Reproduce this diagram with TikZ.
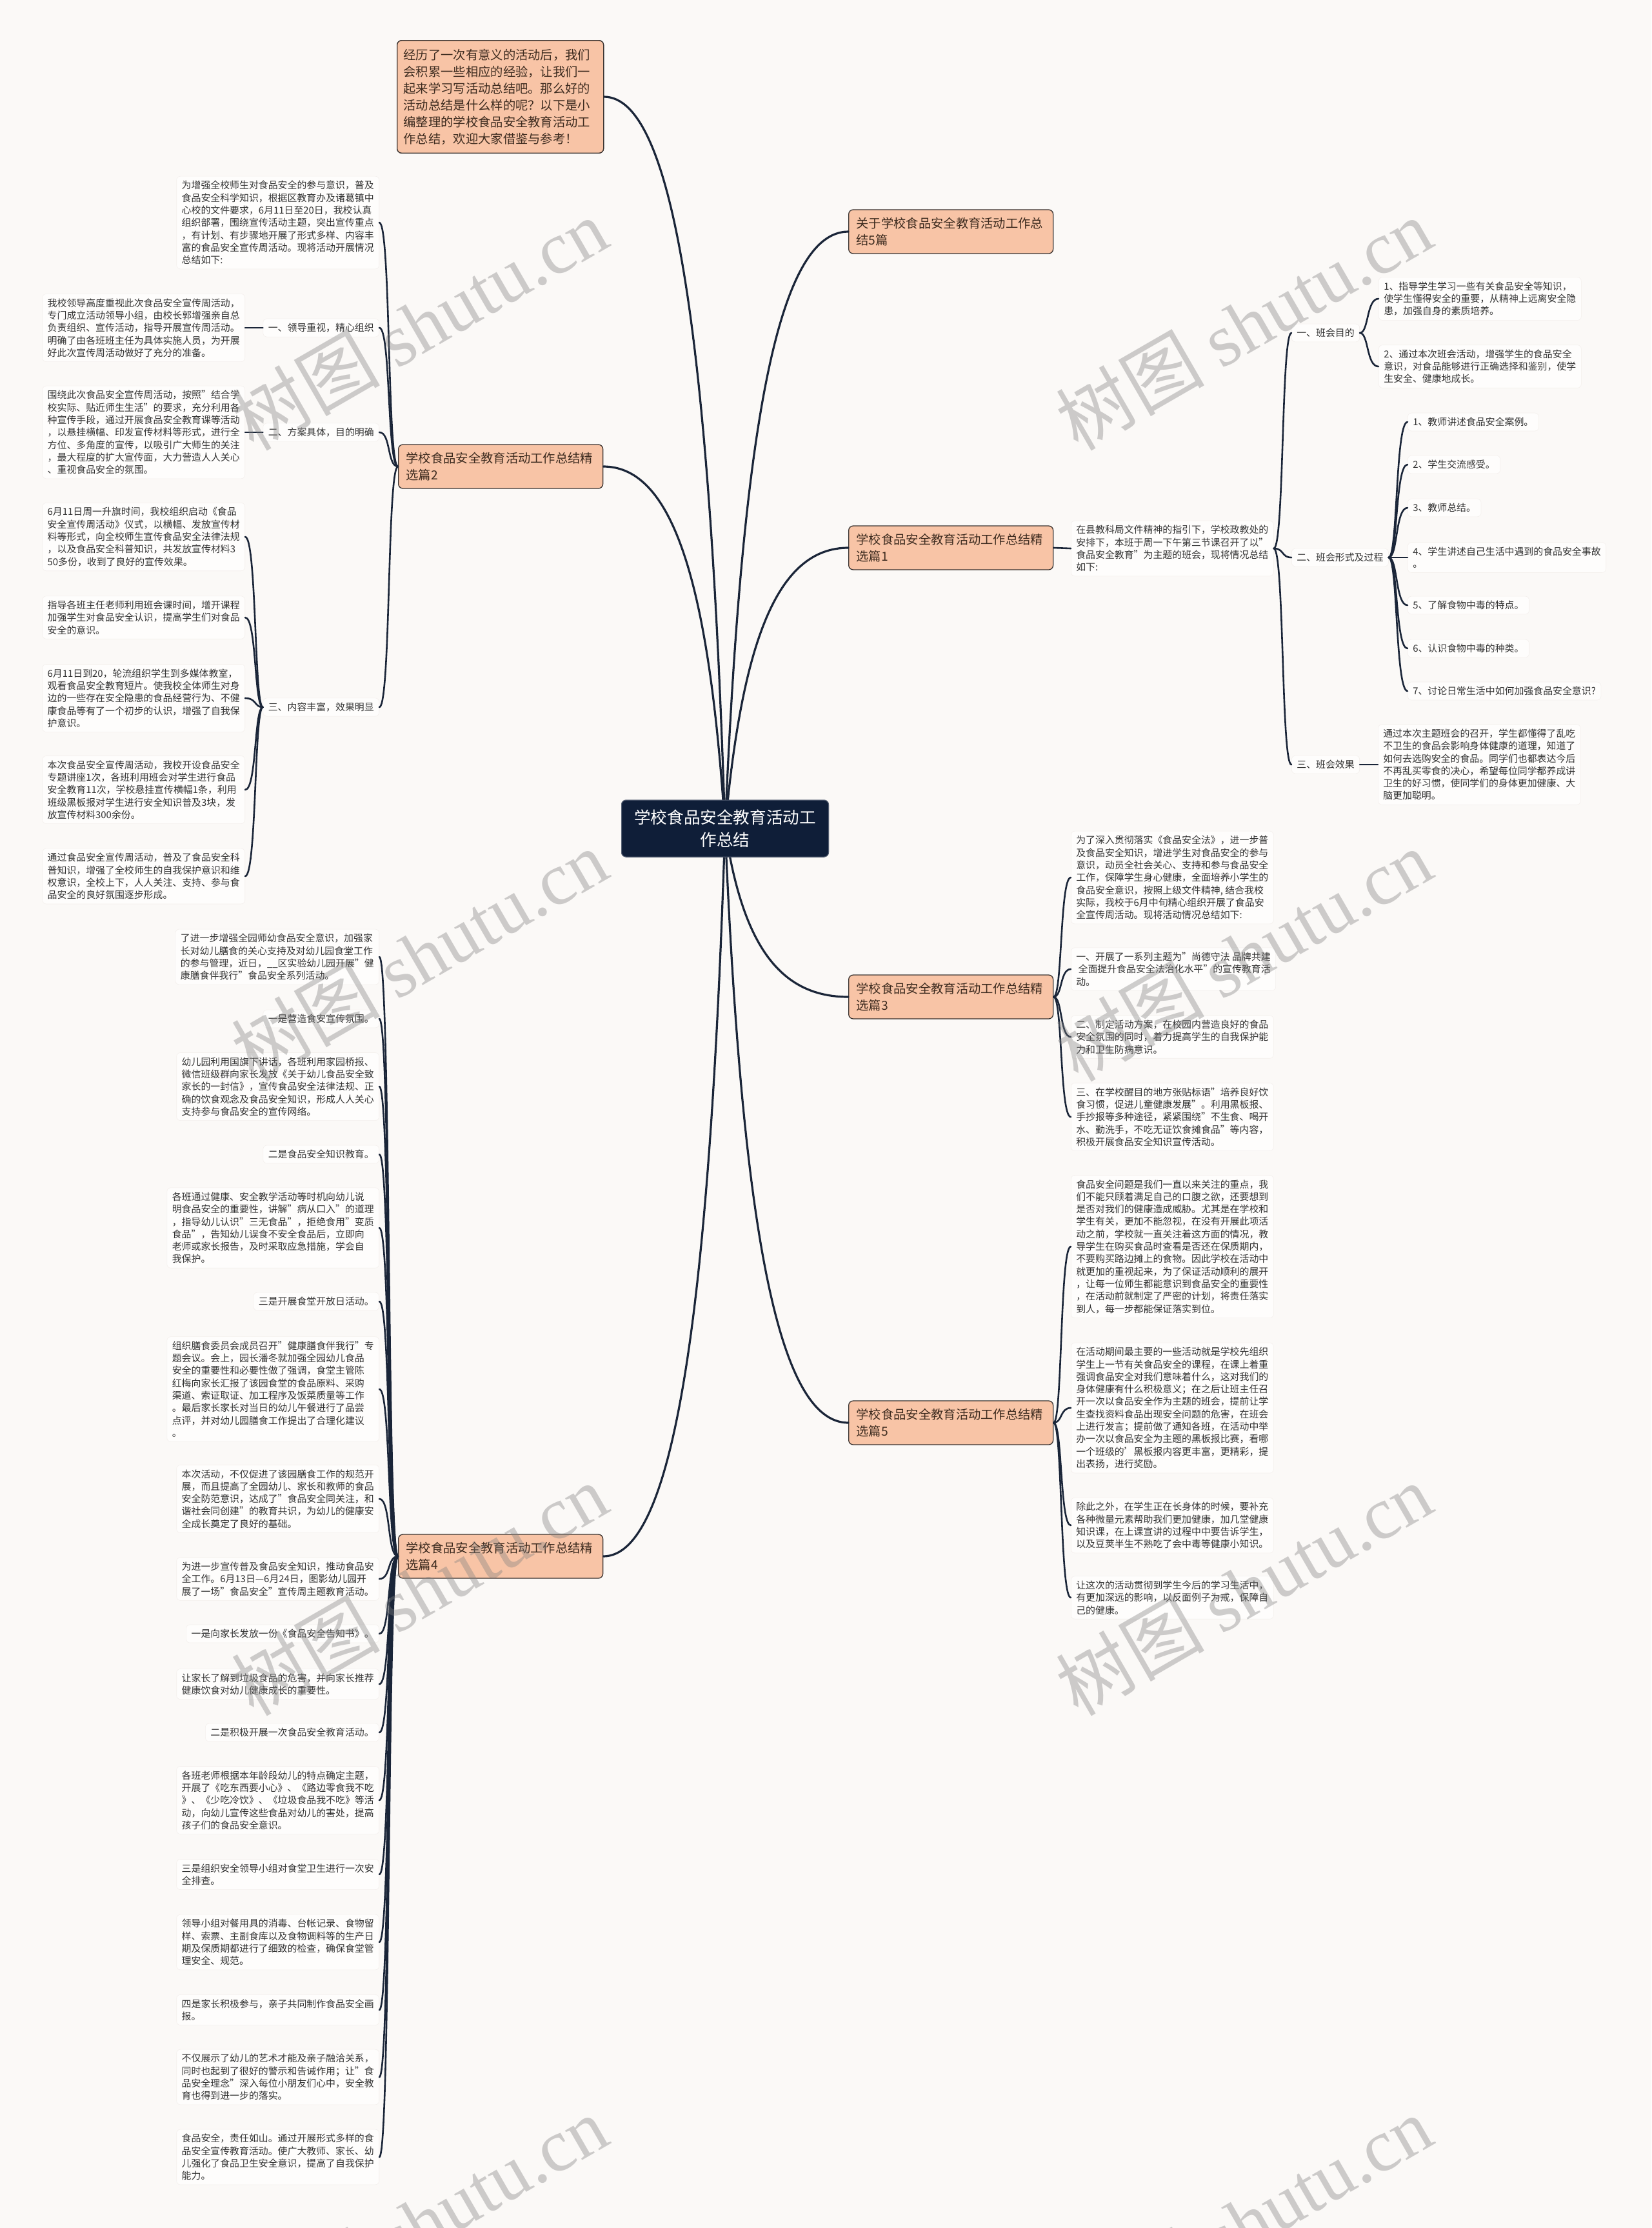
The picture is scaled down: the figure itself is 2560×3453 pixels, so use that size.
\documentclass[tikz,border=0pt]{standalone}
\usepackage{fontspec}
\setmainfont{Noto Sans CJK SC}
\newfontfamily\wmlatin{Liberation Serif}
\newfontfamily\wmcjk{Noto Sans CJK SC}
\definecolor{bgc}{HTML}{FBF9F7}
\definecolor{leafbg}{HTML}{FEFDFC}
\definecolor{leafbd}{HTML}{F4F0ED}
\definecolor{salmon}{HTML}{F8C4A6}
\definecolor{brd}{HTML}{3A3330}
\definecolor{brtxt}{HTML}{3D2B1F}
\definecolor{rootc}{HTML}{0F1E38}
\definecolor{linec}{HTML}{1A2538}
\definecolor{txt}{HTML}{333333}
\begin{document}
\begin{tikzpicture}[x=1pt,y=-1pt,
  leafbox/.style={font=\fontsize{14.9}{19.3}\selectfont, align=left, text=txt, fill=leafbg, draw=leafbd, line width=0.6pt, rounded corners=6pt, inner xsep=8pt, inner ysep=7pt},
  rightbox/.style={leafbox, align=right},
  brbox/.style={font=\fontsize{19.3}{26}\selectfont, align=left, text=brtxt, fill=salmon, draw=brd, line width=1.3pt, rounded corners=7pt, inner xsep=12pt, inner ysep=12pt, text width=293pt},
  introbox/.style={brbox, text width=300pt, inner xsep=10pt, inner ysep=13pt},
  rootbox/.style={font=\fontsize{25.6}{35}\selectfont, align=center, text=white, fill=rootc, draw=rootc!70!white, line width=1pt, rounded corners=7pt, minimum width=321pt, minimum height=88pt, inner sep=4pt},
  mainline/.style={draw=linec, line width=3.2pt, line cap=round},
  subline/.style={draw=linec, line width=2.6pt, line cap=round},
  wmark/.style={font=\fontsize{115}{120}\selectfont, text=black!50, opacity=0.38, rotate=30}
]
\useasboundingbox (0,0) rectangle (2560,3453);
\fill[bgc] (0,0) rectangle (2560,3453);

% ---------- root and branches ----------
\node[rootbox] (root) at (1124,1284) {学校食品安全教育活动工\\作总结};
\node[introbox, anchor=west] (intro) at (615,150) {经历了一次有意义的活动后，我们\\会积累一些相应的经验，让我们一\\起来学习写活动总结吧。那么好的\\活动总结是什么样的呢？以下是小\\编整理的学校食品安全教育活动工\\作总结，欢迎大家借鉴与参考！};
\node[brbox, anchor=west] (b0) at (1315,359) {关于学校食品安全教育活动工作总\\结5篇};
\node[brbox, anchor=west] (b1) at (1315,849) {学校食品安全教育活动工作总结精\\选篇1};
\node[brbox, anchor=west] (b3) at (1315,1545) {学校食品安全教育活动工作总结精\\选篇3};
\node[brbox, anchor=west] (b5) at (1315,2205) {学校食品安全教育活动工作总结精\\选篇5};
\node[brbox, anchor=west] (b2) at (617,723) {学校食品安全教育活动工作总结精\\选篇2};
\node[brbox, anchor=west] (b4) at (617,2412) {学校食品安全教育活动工作总结精\\选篇4};

% ---------- branch 2 ----------
\node[leafbox, anchor=east] (i2) at (588,345) {为增强全校师生对食品安全的参与意识，普及\\食品安全科学知识，根据区教育办及诸葛镇中\\心校的文件要求，6月11日至20日，我校认真\\组织部署，围绕宣传活动主题，突出宣传重点\\，有计划、有步骤地开展了形式多样、内容丰\\富的食品安全宣传周活动。现将活动开展情况\\总结如下:};
\node[leafbox, anchor=east] (l21) at (588,508) {一、领导重视，精心组织};
\node[leafbox, anchor=east] (l22) at (588,670) {二、方案具体，目的明确};
\node[leafbox, anchor=east] (l23) at (588,1096) {三、内容丰富，效果明显};
\node[leafbox, anchor=east] (f21) at (380,508) {我校领导高度重视此次食品安全宣传周活动，\\专门成立活动领导小组，由校长郭增强亲自总\\负责组织、宣传活动，指导开展宣传周活动。\\明确了由各班班主任为具体实施人员，为开展\\好此次宣传周活动做好了充分的准备。};
\node[leafbox, anchor=east] (f22) at (380,670) {围绕此次食品安全宣传周活动，按照"结合学\\校实际、贴近师生生活"的要求，充分利用各\\种宣传手段，通过开展食品安全教育课等活动\\，以悬挂横幅、印发宣传材料等形式，进行全\\方位、多角度的宣传，以吸引广大师生的关注\\，最大程度的扩大宣传面，大力营造人人关心\\、重视食品安全的氛围。};
\node[leafbox, anchor=east] (f23a) at (380,832) {6月11日周一升旗时间，我校组织启动《食品\\安全宣传周活动》仪式，以横幅、发放宣传材\\料等形式，向全校师生宣传食品安全法律法规\\，以及食品安全科普知识，共发放宣传材料3\\50多份，收到了良好的宣传效果。};
\node[leafbox, anchor=east] (f23b) at (380,957) {指导各班主任老师利用班会课时间，增开课程\\加强学生对食品安全认识，提高学生们对食品\\安全的意识。};
\node[leafbox, anchor=east] (f23c) at (380,1082) {6月11日到20，轮流组织学生到多媒体教室，\\观看食品安全教育短片。使我校全体师生对身\\边的一些存在安全隐患的食品经营行为、不健\\康食品等有了一个初步的认识，增强了自我保\\护意识。};
\node[leafbox, anchor=east] (f23d) at (380,1224) {本次食品安全宣传周活动，我校开设食品安全\\专题讲座1次，各班利用班会对学生进行食品\\安全教育11次，学校悬挂宣传横幅1条，利用\\班级黑板报对学生进行安全知识普及3块，发\\放宣传材料300余份。};
\node[leafbox, anchor=east] (f23e) at (380,1358) {通过食品安全宣传周活动，普及了食品安全科\\普知识，增强了全校师生的自我保护意识和维\\权意识，全校上下，人人关注、支持、参与食\\品安全的良好氛围逐步形成。};

% ---------- branch 4 ----------
\node[leafbox, anchor=east] (c1) at (588,1483) {了进一步增强全园师幼食品安全意识，加强家\\长对幼儿膳食的关心支持及对幼儿园食堂工作\\的参与管理，近日，\_\_区实验幼儿园开展"健\\康膳食伴我行"食品安全系列活动。};
\node[leafbox, anchor=east] (c2) at (588,1579) {一是营造食安宣传氛围。};
\node[leafbox, anchor=east] (c3) at (588,1684) {幼儿园利用国旗下讲话，各班利用家园桥报、\\微信班级群向家长发放《关于幼儿食品安全致\\家长的一封信》，宣传食品安全法律法规、正\\确的饮食观念及食品安全知识，形成人人关心\\支持参与食品安全的宣传网络。};
\node[leafbox, anchor=east] (c4) at (588,1789) {二是食品安全知识教育。};
\node[leafbox, anchor=east] (c5) at (588,1903) {各班通过健康、安全教学活动等时机向幼儿说\\明食品安全的重要性，讲解"病从口入"的道理\\，指导幼儿认识"三无食品"，拒绝食用"变质\\食品"，告知幼儿误食不安全食品后，立即向\\老师或家长报告，及时采取应急措施，学会自\\我保护。};
\node[leafbox, anchor=east] (c6) at (588,2017) {三是开展食堂开放日活动。};
\node[leafbox, anchor=east] (c7) at (588,2153) {组织膳食委员会成员召开"健康膳食伴我行"专\\题会议。会上，园长潘冬就加强全园幼儿食品\\安全的重要性和必要性做了强调，食堂主管陈\\红梅向家长汇报了该园食堂的食品原料、采购\\渠道、索证取证、加工程序及饭菜质量等工作\\。最后家长家长对当日的幼儿午餐进行了品尝\\点评，并对幼儿园膳食工作提出了合理化建议\\。};
\node[leafbox, anchor=east] (c8) at (588,2323) {本次活动，不仅促进了该园膳食工作的规范开\\展，而且提高了全园幼儿、家长和教师的食品\\安全防范意识，达成了"食品安全同关注，和\\谐社会同创建"的教育共识，为幼儿的健康安\\全成长奠定了良好的基础。};
\node[leafbox, anchor=east] (c9) at (588,2447) {为进一步宣传普及食品安全知识，推动食品安\\全工作。6月13日—6月24日，图影幼儿园开\\展了一场"食品安全"宣传周主题教育活动。};
\node[leafbox, anchor=east] (c10) at (588,2532) {一是向家长发放一份《食品安全告知书》。};
\node[leafbox, anchor=east] (c11) at (588,2610) {让家长了解到垃圾食品的危害，并向家长推荐\\健康饮食对幼儿健康成长的重要性。};
\node[leafbox, anchor=east] (c12) at (588,2685) {二是积极开展一次食品安全教育活动。};
\node[leafbox, anchor=east] (c13) at (588,2790) {各班老师根据本年龄段幼儿的特点确定主题，\\开展了《吃东西要小心》、《路边零食我不吃\\》、《少吃冷饮》、《垃圾食品我不吃》等活\\动，向幼儿宣传这些食品对幼儿的害处，提高\\孩子们的食品安全意识。};
\node[leafbox, anchor=east] (c14) at (588,2905) {三是组织安全领导小组对食堂卫生进行一次安\\全排查。};
\node[leafbox, anchor=east] (c15) at (588,3010) {领导小组对餐用具的消毒、台帐记录、食物留\\样、索票、主副食库以及食物调料等的生产日\\期及保质期都进行了细致的检查，确保食堂管\\理安全、规范。};
\node[leafbox, anchor=east] (c16) at (588,3115) {四是家长积极参与，亲子共同制作食品安全画\\报。};
\node[leafbox, anchor=east] (c17) at (588,3219) {不仅展示了幼儿的艺术才能及亲子融洽关系，\\同时也起到了很好的警示和告诫作用；让"食\\品安全理念"深入每位小朋友们心中，安全教\\育也得到进一步的落实。};
\node[leafbox, anchor=east] (c18) at (588,3343) {食品安全，责任如山。通过开展形式多样的食\\品安全宣传教育活动。使广大教师、家长、幼\\儿强化了食品卫生安全意识，提高了自我保护\\能力。};

% ---------- branch 1 ----------
\node[leafbox, anchor=west] (i1) at (1660,850) {在县教科局文件精神的指引下，学校政教处的\\安排下，本班于周一下午第三节课召开了以"\\食品安全教育"为主题的班会，现将情况总结\\如下:};
\node[leafbox, anchor=west] (m1) at (2002,516) {一、班会目的};
\node[leafbox, anchor=west] (m2) at (2002,864) {二、班会形式及过程};
\node[leafbox, anchor=west] (m3) at (2002,1185) {三、班会效果};
\node[leafbox, anchor=west] (n1) at (2137,463) {1、指导学生学习一些有关食品安全等知识，\\使学生懂得安全的重要，从精神上远离安全隐\\患，加强自身的素质培养。};
\node[leafbox, anchor=west] (n2) at (2137,568) {2、通过本次班会活动，增强学生的食品安全\\意识，对食品能够进行正确选择和鉴别，使学\\生安全、健康地成长。};
\node[leafbox, anchor=west] (p1) at (2182,654) {1、教师讲述食品安全案例。};
\node[leafbox, anchor=west] (p2) at (2182,720) {2、学生交流感受。};
\node[leafbox, anchor=west] (p3) at (2182,787) {3、教师总结。};
\node[leafbox, anchor=west] (p4) at (2182,864) {4、学生讲述自己生活中遇到的食品安全事故\\。};
\node[leafbox, anchor=west] (p5) at (2182,938) {5、了解食物中毒的特点。};
\node[leafbox, anchor=west] (p6) at (2182,1005) {6、认识食物中毒的种类。};
\node[leafbox, anchor=west] (p7) at (2182,1071) {7、讨论日常生活中如何加强食品安全意识?};
\node[leafbox, anchor=west] (q1) at (2136,1185) {通过本次主题班会的召开，学生都懂得了乱吃\\不卫生的食品会影响身体健康的道理，知道了\\如何去选购安全的食品。同学们也都表达今后\\不再乱买零食的决心，希望每位同学都养成讲\\卫生的好习惯，使同学们的身体更加健康、大\\脑更加聪明。};

% ---------- branch 3 ----------
\node[leafbox, anchor=west] (g1) at (1660,1360) {为了深入贯彻落实《食品安全法》，进一步普\\及食品安全知识，增进学生对食品安全的参与\\意识，动员全社会关心、支持和参与食品安全\\工作，保障学生身心健康，全面培养小学生的\\食品安全意识，按照上级文件精神, 结合我校\\实际，我校于6月中旬精心组织开展了食品安\\全宣传周活动。现将活动情况总结如下:};
\node[leafbox, anchor=west] (g2) at (1660,1502) {一、开展了一系列主题为"尚德守法 品牌共建\\\ 全面提升食品安全法治化水平"的宣传教育活\\动。};
\node[leafbox, anchor=west] (g3) at (1660,1607) {二、制定活动方案，在校园内营造良好的食品\\安全氛围的同时，着力提高学生的自我保护能\\力和卫生防病意识。};
\node[leafbox, anchor=west] (g4) at (1660,1731) {三、在学校醒目的地方张贴标语"培养良好饮\\食习惯，促进儿童健康发展"。利用黑板报、\\手抄报等多种途径，紧紧围绕"不生食、喝开\\水、勤洗手，不吃无证饮食摊食品"等内容，\\积极开展食品安全知识宣传活动。};

% ---------- branch 5 ----------
\node[leafbox, anchor=west] (h1) at (1660,1932) {食品安全问题是我们一直以来关注的重点，我\\们不能只顾着满足自己的口腹之欲，还要想到\\是否对我们的健康造成威胁。尤其是在学校和\\学生有关，更加不能忽视，在没有开展此项活\\动之前，学校就一直关注着这方面的情况，教\\导学生在购买食品时查看是否还在保质期内，\\不要购买路边摊上的食物。因此学校在活动中\\就更加的重视起来，为了保证活动顺利的展开\\，让每一位师生都能意识到食品安全的重要性\\，在活动前就制定了严密的计划，将责任落实\\到人，每一步都能保证落实到位。};
\node[leafbox, anchor=west] (h2) at (1660,2182) {在活动期间最主要的一些活动就是学校先组织\\学生上一节有关食品安全的课程，在课上着重\\强调食品安全对我们意味着什么，这对我们的\\身体健康有什么积极意义；在之后让班主任召\\开一次以食品安全作为主题的班会，提前让学\\生查找资料食品出现安全问题的危害，在班会\\上进行发言；提前做了通知各班，在活动中举\\办一次以食品安全为主题的黑板报比赛，看哪\\一个班级的'黑板报内容更丰富，更精彩，提\\出表扬，进行奖励。};
\node[leafbox, anchor=west] (h3) at (1660,2364) {除此之外，在学生正在长身体的时候，要补充\\各种微量元素帮助我们更加健康，加几堂健康\\知识课，在上课宣讲的过程中中要告诉学生，\\以及豆荚半生不熟吃了会中毒等健康小知识。};
\node[leafbox, anchor=west] (h4) at (1660,2476) {让这次的活动贯彻到学生今后的学习生活中，\\有更加深远的影响，以反面例子为戒，保障自\\己的健康。};

% ---------- connectors ----------
\begin{scope}[on background layer/.style={}]
\end{scope}
\draw[mainline] (root.center) .. controls (1150,667) and (1205,359) .. (b0.west);
\draw[mainline] (root.center) .. controls (1150,994) and (1205,849) .. (b1.west);
\draw[mainline] (root.center) .. controls (1150,1458) and (1205,1545) .. (b3.west);
\draw[mainline] (root.center) .. controls (1150,1898) and (1205,2205) .. (b5.west);
\draw[mainline] (root.center) .. controls (1100,528) and (1045,150) .. (intro.east);
\draw[mainline] (root.center) .. controls (1100,910) and (1045,723) .. (b2.east);
\draw[mainline] (root.center) .. controls (1100,2036) and (1045,2412) .. (b4.east);

% branch 2
\foreach \n/\y in {i2/345,l21/508,l22/670,l23/1096}{
  \draw[subline] (b2.west) .. controls (600,723) and (606,\y) .. (\n.east);
}
\draw[subline] (f21.east) -- (l21.west);
\draw[subline] (f22.east) -- (l22.west);
\foreach \n/\y in {f23a/832,f23b/957,f23c/1082,f23d/1224,f23e/1358}{
  \draw[subline] (l23.west) .. controls (394,1096) and (398,\y) .. (\n.east);
}
% branch 4
\foreach \n/\y in {c1/1483,c2/1579,c3/1684,c4/1789,c5/1903,c6/2017,c7/2153,c8/2323,c9/2447,c10/2532,c11/2610,c12/2685,c13/2790,c14/2905,c15/3010,c16/3115,c17/3219,c18/3343}{
  \draw[subline] (b4.west) .. controls (600,2412) and (606,\y) .. (\n.east);
}
% branch 1
\draw[subline] (b1.east) -- (i1.west);
\foreach \n/\y in {m1/516,m2/864,m3/1185}{
  \draw[subline] (i1.east) .. controls (1991,850) and (1986,\y) .. (\n.west);
}
\foreach \n/\y in {n1/463,n2/568}{
  \draw[subline] (m1.east) .. controls (2122,516) and (2118,\y) .. (\n.west);
}
\foreach \n/\y in {p1/654,p2/720,p3/787,p4/864,p5/938,p6/1005,p7/1071}{
  \draw[subline] (m2.east) .. controls (2167,864) and (2163,\y) .. (\n.west);
}
\draw[subline] (m3.east) -- (q1.west);
% branch 3
\foreach \n/\y in {g1/1360,g2/1502,g3/1607,g4/1731}{
  \draw[subline] (b3.east) .. controls (1647,1545) and (1643,\y) .. (\n.west);
}
% branch 5
\foreach \n/\y in {h1/1932,h2/2182,h3/2364,h4/2476}{
  \draw[subline] (b5.east) .. controls (1647,2205) and (1643,\y) .. (\n.west);
}

% redraw root and branch boxes on top of the connectors
\node[rootbox] at (root.center) {学校食品安全教育活动工\\作总结};
\node[introbox] at (intro.center) {经历了一次有意义的活动后，我们\\会积累一些相应的经验，让我们一\\起来学习写活动总结吧。那么好的\\活动总结是什么样的呢？以下是小\\编整理的学校食品安全教育活动工\\作总结，欢迎大家借鉴与参考！};

% ---------- watermarks ----------
\foreach \wx/\wy in {650/502,1928/502,650/1480,1928/1480,650/2463,1928/2463,650/3443,1928/3443}{
  \node[wmark] (w\wx\wy) at (\wx,\wy) {{\wmcjk 树图} {\wmlatin shutu.cn}};
}
\end{tikzpicture}
\end{document}
